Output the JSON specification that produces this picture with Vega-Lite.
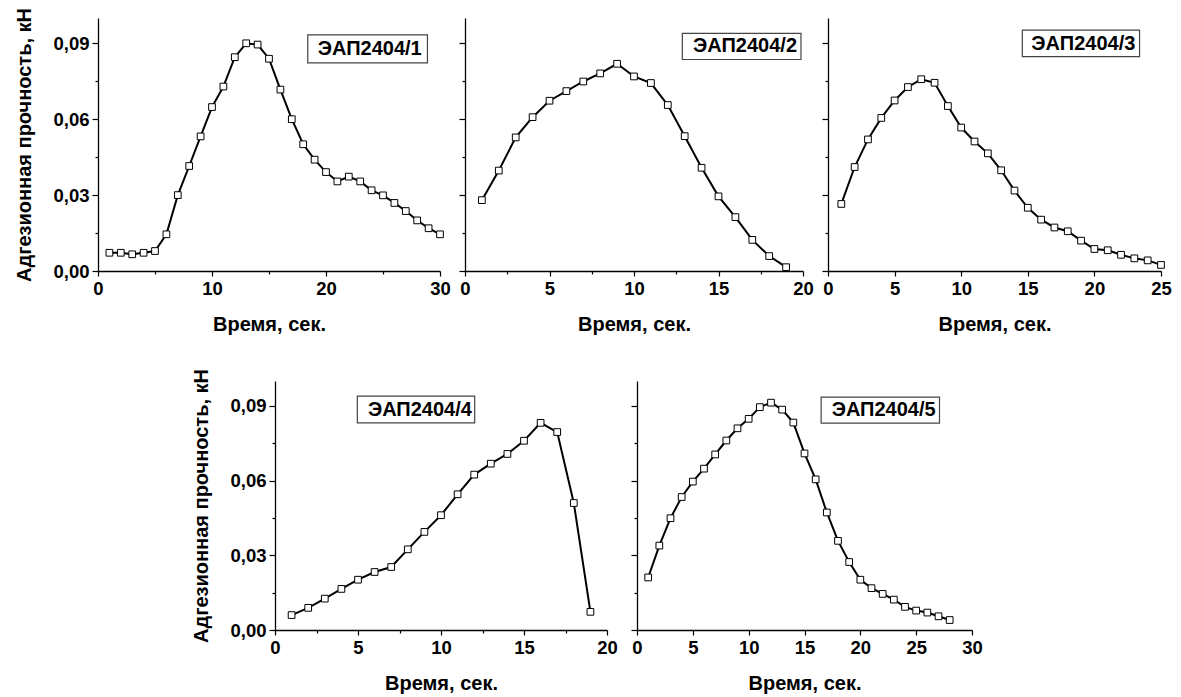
{
  "$schema": "https://vega.github.io/schema/vega-lite/v6.json",
  "background": "white",
  "padding": {"left": 14, "top": 7, "right": 0, "bottom": 0},
  "bounds": "full",
  "spacing": 33,
  "datasets": {
    "d": [
      {"sample": "ЭАП2404/1", "time": 1, "strength": 0.0072},
      {"sample": "ЭАП2404/1", "time": 2, "strength": 0.0072},
      {"sample": "ЭАП2404/1", "time": 3, "strength": 0.0066},
      {"sample": "ЭАП2404/1", "time": 4, "strength": 0.0072},
      {"sample": "ЭАП2404/1", "time": 5, "strength": 0.0079},
      {"sample": "ЭАП2404/1", "time": 6, "strength": 0.0145},
      {"sample": "ЭАП2404/1", "time": 7, "strength": 0.0300},
      {"sample": "ЭАП2404/1", "time": 8, "strength": 0.0415},
      {"sample": "ЭАП2404/1", "time": 9, "strength": 0.0532},
      {"sample": "ЭАП2404/1", "time": 10, "strength": 0.0648},
      {"sample": "ЭАП2404/1", "time": 11, "strength": 0.0729},
      {"sample": "ЭАП2404/1", "time": 12, "strength": 0.0845},
      {"sample": "ЭАП2404/1", "time": 13, "strength": 0.0900},
      {"sample": "ЭАП2404/1", "time": 14, "strength": 0.0895},
      {"sample": "ЭАП2404/1", "time": 15, "strength": 0.0839},
      {"sample": "ЭАП2404/1", "time": 16, "strength": 0.0717},
      {"sample": "ЭАП2404/1", "time": 17, "strength": 0.0600},
      {"sample": "ЭАП2404/1", "time": 18, "strength": 0.0501},
      {"sample": "ЭАП2404/1", "time": 19, "strength": 0.0440},
      {"sample": "ЭАП2404/1", "time": 20, "strength": 0.0391},
      {"sample": "ЭАП2404/1", "time": 21, "strength": 0.0354},
      {"sample": "ЭАП2404/1", "time": 22, "strength": 0.0373},
      {"sample": "ЭАП2404/1", "time": 23, "strength": 0.0354},
      {"sample": "ЭАП2404/1", "time": 24, "strength": 0.0319},
      {"sample": "ЭАП2404/1", "time": 25, "strength": 0.0299},
      {"sample": "ЭАП2404/1", "time": 26, "strength": 0.0269},
      {"sample": "ЭАП2404/1", "time": 27, "strength": 0.0237},
      {"sample": "ЭАП2404/1", "time": 28, "strength": 0.0200},
      {"sample": "ЭАП2404/1", "time": 29, "strength": 0.0169},
      {"sample": "ЭАП2404/1", "time": 30, "strength": 0.0145},
      {"sample": "ЭАП2404/2", "time": 1, "strength": 0.0280},
      {"sample": "ЭАП2404/2", "time": 2, "strength": 0.0397},
      {"sample": "ЭАП2404/2", "time": 3, "strength": 0.0528},
      {"sample": "ЭАП2404/2", "time": 4, "strength": 0.0608},
      {"sample": "ЭАП2404/2", "time": 5, "strength": 0.0673},
      {"sample": "ЭАП2404/2", "time": 6, "strength": 0.0711},
      {"sample": "ЭАП2404/2", "time": 7, "strength": 0.0749},
      {"sample": "ЭАП2404/2", "time": 8, "strength": 0.0781},
      {"sample": "ЭАП2404/2", "time": 9, "strength": 0.0819},
      {"sample": "ЭАП2404/2", "time": 10, "strength": 0.0769},
      {"sample": "ЭАП2404/2", "time": 11, "strength": 0.0743},
      {"sample": "ЭАП2404/2", "time": 12, "strength": 0.0656},
      {"sample": "ЭАП2404/2", "time": 13, "strength": 0.0533},
      {"sample": "ЭАП2404/2", "time": 14, "strength": 0.0408},
      {"sample": "ЭАП2404/2", "time": 15, "strength": 0.0295},
      {"sample": "ЭАП2404/2", "time": 16, "strength": 0.0213},
      {"sample": "ЭАП2404/2", "time": 17, "strength": 0.0123},
      {"sample": "ЭАП2404/2", "time": 18, "strength": 0.0059},
      {"sample": "ЭАП2404/2", "time": 19, "strength": 0.0015},
      {"sample": "ЭАП2404/3", "time": 1, "strength": 0.0265},
      {"sample": "ЭАП2404/3", "time": 2, "strength": 0.0411},
      {"sample": "ЭАП2404/3", "time": 3, "strength": 0.0520},
      {"sample": "ЭАП2404/3", "time": 4, "strength": 0.0605},
      {"sample": "ЭАП2404/3", "time": 5, "strength": 0.0674},
      {"sample": "ЭАП2404/3", "time": 6, "strength": 0.0727},
      {"sample": "ЭАП2404/3", "time": 7, "strength": 0.0758},
      {"sample": "ЭАП2404/3", "time": 8, "strength": 0.0744},
      {"sample": "ЭАП2404/3", "time": 9, "strength": 0.0652},
      {"sample": "ЭАП2404/3", "time": 10, "strength": 0.0567},
      {"sample": "ЭАП2404/3", "time": 11, "strength": 0.0512},
      {"sample": "ЭАП2404/3", "time": 12, "strength": 0.0465},
      {"sample": "ЭАП2404/3", "time": 13, "strength": 0.0398},
      {"sample": "ЭАП2404/3", "time": 14, "strength": 0.0318},
      {"sample": "ЭАП2404/3", "time": 15, "strength": 0.0250},
      {"sample": "ЭАП2404/3", "time": 16, "strength": 0.0203},
      {"sample": "ЭАП2404/3", "time": 17, "strength": 0.0172},
      {"sample": "ЭАП2404/3", "time": 18, "strength": 0.0157},
      {"sample": "ЭАП2404/3", "time": 19, "strength": 0.0120},
      {"sample": "ЭАП2404/3", "time": 20, "strength": 0.0087},
      {"sample": "ЭАП2404/3", "time": 21, "strength": 0.0082},
      {"sample": "ЭАП2404/3", "time": 22, "strength": 0.0064},
      {"sample": "ЭАП2404/3", "time": 23, "strength": 0.0050},
      {"sample": "ЭАП2404/3", "time": 24, "strength": 0.0042},
      {"sample": "ЭАП2404/3", "time": 25, "strength": 0.0024},
      {"sample": "ЭАП2404/4", "time": 1, "strength": 0.0060},
      {"sample": "ЭАП2404/4", "time": 2, "strength": 0.0089},
      {"sample": "ЭАП2404/4", "time": 3, "strength": 0.0126},
      {"sample": "ЭАП2404/4", "time": 4, "strength": 0.0165},
      {"sample": "ЭАП2404/4", "time": 5, "strength": 0.0202},
      {"sample": "ЭАП2404/4", "time": 6, "strength": 0.0233},
      {"sample": "ЭАП2404/4", "time": 7, "strength": 0.0253},
      {"sample": "ЭАП2404/4", "time": 8, "strength": 0.0324},
      {"sample": "ЭАП2404/4", "time": 9, "strength": 0.0394},
      {"sample": "ЭАП2404/4", "time": 10, "strength": 0.0461},
      {"sample": "ЭАП2404/4", "time": 11, "strength": 0.0545},
      {"sample": "ЭАП2404/4", "time": 12, "strength": 0.0624},
      {"sample": "ЭАП2404/4", "time": 13, "strength": 0.0668},
      {"sample": "ЭАП2404/4", "time": 14, "strength": 0.0707},
      {"sample": "ЭАП2404/4", "time": 15, "strength": 0.0760},
      {"sample": "ЭАП2404/4", "time": 16, "strength": 0.0832},
      {"sample": "ЭАП2404/4", "time": 17, "strength": 0.0795},
      {"sample": "ЭАП2404/4", "time": 18, "strength": 0.0510},
      {"sample": "ЭАП2404/4", "time": 19, "strength": 0.0073},
      {"sample": "ЭАП2404/5", "time": 1, "strength": 0.0211},
      {"sample": "ЭАП2404/5", "time": 2, "strength": 0.0339},
      {"sample": "ЭАП2404/5", "time": 3, "strength": 0.0449},
      {"sample": "ЭАП2404/5", "time": 4, "strength": 0.0534},
      {"sample": "ЭАП2404/5", "time": 5, "strength": 0.0596},
      {"sample": "ЭАП2404/5", "time": 6, "strength": 0.0648},
      {"sample": "ЭАП2404/5", "time": 7, "strength": 0.0705},
      {"sample": "ЭАП2404/5", "time": 8, "strength": 0.0761},
      {"sample": "ЭАП2404/5", "time": 9, "strength": 0.0810},
      {"sample": "ЭАП2404/5", "time": 10, "strength": 0.0848},
      {"sample": "ЭАП2404/5", "time": 11, "strength": 0.0895},
      {"sample": "ЭАП2404/5", "time": 12, "strength": 0.0913},
      {"sample": "ЭАП2404/5", "time": 13, "strength": 0.0885},
      {"sample": "ЭАП2404/5", "time": 14, "strength": 0.0833},
      {"sample": "ЭАП2404/5", "time": 15, "strength": 0.0709},
      {"sample": "ЭАП2404/5", "time": 16, "strength": 0.0605},
      {"sample": "ЭАП2404/5", "time": 17, "strength": 0.0472},
      {"sample": "ЭАП2404/5", "time": 18, "strength": 0.0358},
      {"sample": "ЭАП2404/5", "time": 19, "strength": 0.0273},
      {"sample": "ЭАП2404/5", "time": 20, "strength": 0.0202},
      {"sample": "ЭАП2404/5", "time": 21, "strength": 0.0168},
      {"sample": "ЭАП2404/5", "time": 22, "strength": 0.0145},
      {"sample": "ЭАП2404/5", "time": 23, "strength": 0.0122},
      {"sample": "ЭАП2404/5", "time": 24, "strength": 0.0093},
      {"sample": "ЭАП2404/5", "time": 25, "strength": 0.0078},
      {"sample": "ЭАП2404/5", "time": 26, "strength": 0.0070},
      {"sample": "ЭАП2404/5", "time": 27, "strength": 0.0055},
      {"sample": "ЭАП2404/5", "time": 28, "strength": 0.0040}
    ]
  },
  "vconcat": [
    {
      "bounds": "flush",
      "spacing": 25,
      "hconcat": [
        {
          "width": 342, "height": 253,
          "layer": [
            {
              "data": {"name": "d"},
              "transform": [{"filter": "datum.sample == 'ЭАП2404/1'"}],
              "mark": {"type": "line", "color": "black", "strokeWidth": 2},
              "encoding": {
                "x": {"field": "time", "type": "quantitative", "scale": {"domain": [0, 30], "nice": false},
                  "axis": {"values": [0, 5, 10, 15, 20, 25, 30], "labelExpr": "datum.value % 10 == 0 ? datum.label : ''", "tickSize": {"condition": {"test": "datum.value % 10 == 0", "value": 5}, "value": 3}, "title": "Время, сек."}},
                "y": {"field": "strength", "type": "quantitative", "scale": {"domain": [0, 0.1], "nice": false},
                  "axis": {"values": [0, 0.015, 0.03, 0.045, 0.06, 0.075, 0.09], "labelExpr": "round(datum.value*1000) % 30 == 0 ? replace(format(datum.value, '.2f'), '.', ',') : ''", "tickSize": {"condition": {"test": "round(datum.value*1000) % 30 == 0", "value": 6}, "value": 3}, "title": "Адгезионная прочность, кН"}}
              }
            },
            {
              "data": {"name": "d"},
              "transform": [{"filter": "datum.sample == 'ЭАП2404/1'"}],
              "mark": {"type": "point", "shape": "square", "filled": true, "fill": "white", "stroke": "black", "strokeWidth": 1, "size": 45, "opacity": 1},
              "encoding": {"x": {"field": "time", "type": "quantitative"}, "y": {"field": "strength", "type": "quantitative"}}
            },
            {
              "data": {"values": [{"label": "ЭАП2404/1"}]},
              "mark": {"type": "rect", "fill": "white", "stroke": "#444444", "strokeWidth": 1.2},
              "encoding": {"x": {"datum": 18.4, "type": "quantitative"}, "x2": {"datum": 28.9}, "y": {"datum": 0.0933, "type": "quantitative"}, "y2": {"datum": 0.0823}}
            },
            {
              "data": {"values": [{"label": "ЭАП2404/1"}]},
              "mark": {"type": "text", "font": "Liberation Sans", "fontWeight": "bold", "fontSize": 20, "color": "black", "baseline": "middle", "align": "center"},
              "encoding": {"x": {"datum": 23.84, "type": "quantitative"}, "y": {"datum": 0.0877, "type": "quantitative"}, "text": {"field": "label"}}
            }
          ]
        },
        {
          "width": 338, "height": 253,
          "layer": [
            {
              "data": {"name": "d"},
              "transform": [{"filter": "datum.sample == 'ЭАП2404/2'"}],
              "mark": {"type": "line", "color": "black", "strokeWidth": 2},
              "encoding": {
                "x": {"field": "time", "type": "quantitative", "scale": {"domain": [0, 20], "nice": false},
                  "axis": {"values": [0, 2.5, 5, 7.5, 10, 12.5, 15, 17.5, 20], "labelExpr": "datum.value % 5 == 0 ? datum.label : ''", "tickSize": {"condition": {"test": "datum.value % 5 == 0", "value": 5}, "value": 3}, "title": "Время, сек."}},
                "y": {"field": "strength", "type": "quantitative", "scale": {"domain": [0, 0.1], "nice": false},
                  "axis": {"values": [0, 0.015, 0.03, 0.045, 0.06, 0.075, 0.09], "labels": false, "tickSize": {"condition": {"test": "round(datum.value*1000) % 30 == 0", "value": 6}, "value": 3}, "title": null}}
              }
            },
            {
              "data": {"name": "d"},
              "transform": [{"filter": "datum.sample == 'ЭАП2404/2'"}],
              "mark": {"type": "point", "shape": "square", "filled": true, "fill": "white", "stroke": "black", "strokeWidth": 1, "size": 45, "opacity": 1},
              "encoding": {"x": {"field": "time", "type": "quantitative"}, "y": {"field": "strength", "type": "quantitative"}}
            },
            {
              "data": {"values": [{"label": "ЭАП2404/2"}]},
              "mark": {"type": "rect", "fill": "white", "stroke": "#444444", "strokeWidth": 1.2},
              "encoding": {"x": {"datum": 12.86, "type": "quantitative"}, "x2": {"datum": 19.88}, "y": {"datum": 0.0939, "type": "quantitative"}, "y2": {"datum": 0.0836}}
            },
            {
              "data": {"values": [{"label": "ЭАП2404/2"}]},
              "mark": {"type": "text", "font": "Liberation Sans", "fontWeight": "bold", "fontSize": 20, "color": "black", "baseline": "middle", "align": "center"},
              "encoding": {"x": {"datum": 16.57, "type": "quantitative"}, "y": {"datum": 0.0888, "type": "quantitative"}, "text": {"field": "label"}}
            }
          ]
        },
        {
          "width": 333, "height": 253,
          "layer": [
            {
              "data": {"name": "d"},
              "transform": [{"filter": "datum.sample == 'ЭАП2404/3'"}],
              "mark": {"type": "line", "color": "black", "strokeWidth": 2},
              "encoding": {
                "x": {"field": "time", "type": "quantitative", "scale": {"domain": [0, 25], "nice": false},
                  "axis": {"values": [0, 2.5, 5, 7.5, 10, 12.5, 15, 17.5, 20, 22.5, 25], "labelExpr": "datum.value % 5 == 0 ? datum.label : ''", "tickSize": {"condition": {"test": "datum.value % 5 == 0", "value": 5}, "value": 3}, "title": "Время, сек."}},
                "y": {"field": "strength", "type": "quantitative", "scale": {"domain": [0, 0.1], "nice": false},
                  "axis": {"values": [0, 0.015, 0.03, 0.045, 0.06, 0.075, 0.09], "labels": false, "tickSize": {"condition": {"test": "round(datum.value*1000) % 30 == 0", "value": 6}, "value": 3}, "title": null}}
              }
            },
            {
              "data": {"name": "d"},
              "transform": [{"filter": "datum.sample == 'ЭАП2404/3'"}],
              "mark": {"type": "point", "shape": "square", "filled": true, "fill": "white", "stroke": "black", "strokeWidth": 1, "size": 45, "opacity": 1},
              "encoding": {"x": {"field": "time", "type": "quantitative"}, "y": {"field": "strength", "type": "quantitative"}}
            },
            {
              "data": {"values": [{"label": "ЭАП2404/3"}]},
              "mark": {"type": "rect", "fill": "white", "stroke": "#444444", "strokeWidth": 1.2},
              "encoding": {"x": {"datum": 14.59, "type": "quantitative"}, "x2": {"datum": 23.39}, "y": {"datum": 0.0952, "type": "quantitative"}, "y2": {"datum": 0.0847}}
            },
            {
              "data": {"values": [{"label": "ЭАП2404/3"}]},
              "mark": {"type": "text", "font": "Liberation Sans", "fontWeight": "bold", "fontSize": 20, "color": "black", "baseline": "middle", "align": "center"},
              "encoding": {"x": {"datum": 19.17, "type": "quantitative"}, "y": {"datum": 0.0899, "type": "quantitative"}, "text": {"field": "label"}}
            }
          ]
        }
      ]
    },
    {
      "bounds": "flush",
      "spacing": 30,
      "hconcat": [
        {
          "width": 147, "height": 249,
          "data": {"values": []},
          "mark": {"type": "point", "opacity": 0},
          "encoding": {}
        },
        {
          "width": 332, "height": 249,
          "layer": [
            {
              "data": {"name": "d"},
              "transform": [{"filter": "datum.sample == 'ЭАП2404/4'"}],
              "mark": {"type": "line", "color": "black", "strokeWidth": 2},
              "encoding": {
                "x": {"field": "time", "type": "quantitative", "scale": {"domain": [0, 20], "nice": false},
                  "axis": {"values": [0, 2.5, 5, 7.5, 10, 12.5, 15, 17.5, 20], "labelExpr": "datum.value % 5 == 0 ? datum.label : ''", "tickSize": {"condition": {"test": "datum.value % 5 == 0", "value": 5}, "value": 3}, "title": "Время, сек."}},
                "y": {"field": "strength", "type": "quantitative", "scale": {"domain": [0, 0.1], "nice": false},
                  "axis": {"values": [0, 0.015, 0.03, 0.045, 0.06, 0.075, 0.09], "labelExpr": "round(datum.value*1000) % 30 == 0 ? replace(format(datum.value, '.2f'), '.', ',') : ''", "tickSize": {"condition": {"test": "round(datum.value*1000) % 30 == 0", "value": 6}, "value": 3}, "title": "Адгезионная прочность, кН"}}
              }
            },
            {
              "data": {"name": "d"},
              "transform": [{"filter": "datum.sample == 'ЭАП2404/4'"}],
              "mark": {"type": "point", "shape": "square", "filled": true, "fill": "white", "stroke": "black", "strokeWidth": 1, "size": 45, "opacity": 1},
              "encoding": {"x": {"field": "time", "type": "quantitative"}, "y": {"field": "strength", "type": "quantitative"}}
            },
            {
              "data": {"values": [{"label": "ЭАП2404/4"}]},
              "mark": {"type": "rect", "fill": "white", "stroke": "#444444", "strokeWidth": 1.2},
              "encoding": {"x": {"datum": 4.96, "type": "quantitative"}, "x2": {"datum": 12.03}, "y": {"datum": 0.0939, "type": "quantitative"}, "y2": {"datum": 0.0832}}
            },
            {
              "data": {"values": [{"label": "ЭАП2404/4"}]},
              "mark": {"type": "text", "font": "Liberation Sans", "fontWeight": "bold", "fontSize": 20, "color": "black", "baseline": "middle", "align": "center"},
              "encoding": {"x": {"datum": 8.73, "type": "quantitative"}, "y": {"datum": 0.0885, "type": "quantitative"}, "text": {"field": "label"}}
            }
          ]
        },
        {
          "width": 335, "height": 249,
          "layer": [
            {
              "data": {"name": "d"},
              "transform": [{"filter": "datum.sample == 'ЭАП2404/5'"}],
              "mark": {"type": "line", "color": "black", "strokeWidth": 2},
              "encoding": {
                "x": {"field": "time", "type": "quantitative", "scale": {"domain": [0, 30], "nice": false},
                  "axis": {"values": [0, 2.5, 5, 7.5, 10, 12.5, 15, 17.5, 20, 22.5, 25, 27.5, 30], "labelExpr": "datum.value % 5 == 0 ? datum.label : ''", "tickSize": {"condition": {"test": "datum.value % 5 == 0", "value": 5}, "value": 3}, "title": "Время, сек."}},
                "y": {"field": "strength", "type": "quantitative", "scale": {"domain": [0, 0.1], "nice": false},
                  "axis": {"values": [0, 0.015, 0.03, 0.045, 0.06, 0.075, 0.09], "labels": false, "tickSize": {"condition": {"test": "round(datum.value*1000) % 30 == 0", "value": 6}, "value": 3}, "title": null}}
              }
            },
            {
              "data": {"name": "d"},
              "transform": [{"filter": "datum.sample == 'ЭАП2404/5'"}],
              "mark": {"type": "point", "shape": "square", "filled": true, "fill": "white", "stroke": "black", "strokeWidth": 1, "size": 45, "opacity": 1},
              "encoding": {"x": {"field": "time", "type": "quantitative"}, "y": {"field": "strength", "type": "quantitative"}}
            },
            {
              "data": {"values": [{"label": "ЭАП2404/5"}]},
              "mark": {"type": "rect", "fill": "white", "stroke": "#444444", "strokeWidth": 1.2},
              "encoding": {"x": {"datum": 16.49, "type": "quantitative"}, "x2": {"datum": 27.09}, "y": {"datum": 0.0935, "type": "quantitative"}, "y2": {"datum": 0.0831}}
            },
            {
              "data": {"values": [{"label": "ЭАП2404/5"}]},
              "mark": {"type": "text", "font": "Liberation Sans", "fontWeight": "bold", "fontSize": 20, "color": "black", "baseline": "middle", "align": "center"},
              "encoding": {"x": {"datum": 22.09, "type": "quantitative"}, "y": {"datum": 0.0883, "type": "quantitative"}, "text": {"field": "label"}}
            }
          ]
        }
      ]
    }
  ],
  "config": {
    "view": {"stroke": null},
    "font": "Liberation Sans",
    "axis": {
      "grid": false,
      "domainColor": "black", "domainWidth": 1.3,
      "tickColor": "black", "tickWidth": 1.2,
      "labelFont": "Liberation Sans", "labelFontWeight": "bold", "labelFontSize": 18.5, "labelColor": "black", "labelPadding": 3,
      "titleFont": "Liberation Sans", "titleFontWeight": "bold", "titleFontSize": 20, "titleColor": "black"
    },
    "axisX": {"titlePadding": 17, "labelFlush": false, "labelOverlap": false},
    "axisY": {"titlePadding": 18, "labelFlush": false, "labelOverlap": false}
  }
}
